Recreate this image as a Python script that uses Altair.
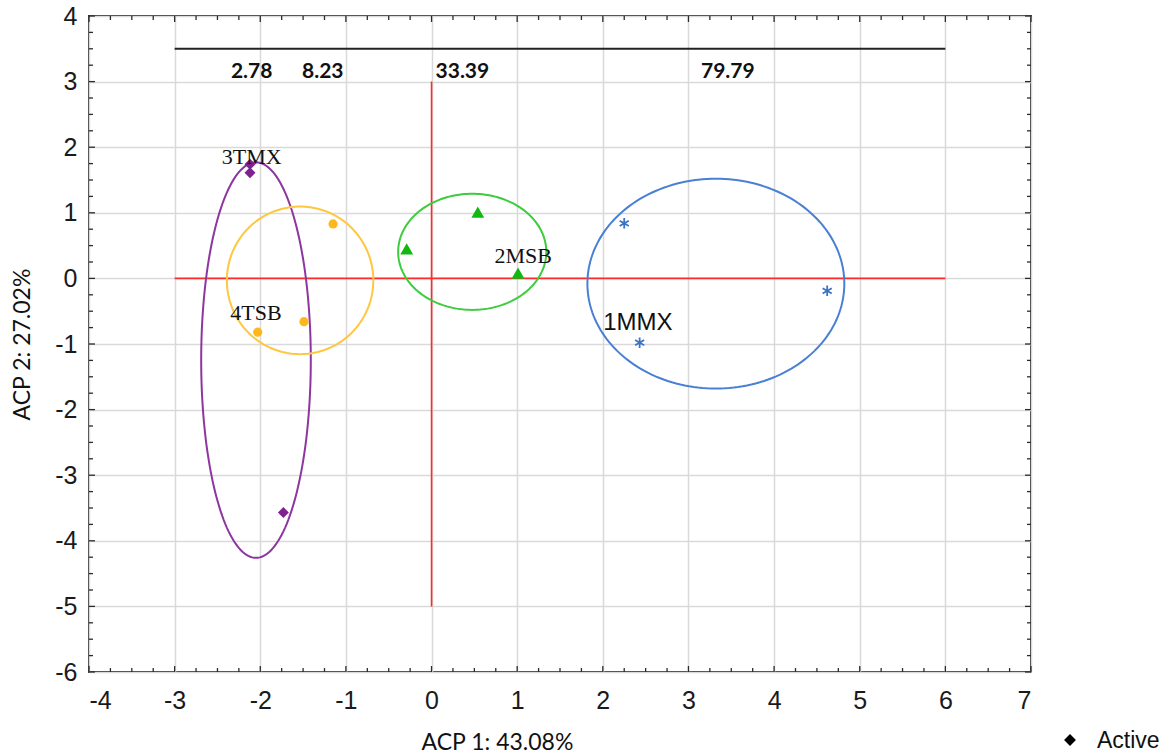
import altair as alt
import numpy as np
import pandas as pd

# Scores of the samples on the first two principal components
grupo = ["1MMX"] * 3 + ["2MSB"] * 3 + ["3TMX"] * 3 + ["4TSB"] * 3
acp1 = [2.25, 4.62, 2.43, 0.54, -0.29, 1.01, -2.12, -2.12, -1.73, -1.15, -1.49, -2.03]
acp2 = [0.84, -0.19, -0.98, 1.01, 0.45, 0.08, 1.74, 1.61, -3.57, 0.83, -0.66, -0.82]

# Group ellipses: centre and semi-axes
ell_group = ["1MMX", "2MSB", "3TMX", "4TSB"]
ell_cx = [3.32, 0.475, -2.05, -1.535]
ell_cy = [-0.08, 0.405, -1.245, -0.03]
ell_rx = [1.50, 0.865, 0.64, 0.855]
ell_ry = [1.60, 0.885, 3.015, 1.125]

# Group name labels
lab_text = ["1MMX", "2MSB", "3TMX", "4TSB"]
lab_x = [2.41, 1.07, -2.10, -2.05]
lab_y = [-0.68, 0.34, 1.85, -0.53]

# Dendrogram-style distance values above the plot
dist_text = ["2.78", "8.23", "33.39", "79.79"]
dist_x = [-2.10, -1.27, 0.36, 3.46]
dist_y = [3.15, 3.15, 3.15, 3.15]
bar_x, bar_x2, bar_y = -3.0, 6.0, 3.5

# Red reference cross
cross_x = [-3.0, 0.0]
cross_x2 = [6.0, 0.0]
cross_y = [0.0, 3.0]
cross_y2 = [0.0, -5.0]

x_ticks = list(range(-4, 8))
y_ticks = list(range(-6, 5))

point_color = {"1MMX": "#3b73c6", "2MSB": "#12b812", "3TMX": "#7d2290", "4TSB": "#ffb81c"}
ring_color = {"1MMX": "#4a80d4", "2MSB": "#3ccc3c", "3TMX": "#8e36a0", "4TSB": "#ffc640"}
ASTERISK = "M0,-1L0,1M-0.87,-0.5L0.87,0.5M-0.87,0.5L0.87,-0.5"
shape_of = {"1MMX": ASTERISK, "2MSB": "triangle-up", "3TMX": "diamond", "4TSB": "circle"}
size_of = {"1MMX": 110, "2MSB": 165, "3TMX": 120, "4TSB": 85}

W, H = 942, 656

xs = alt.Scale(domain=[-4, 7], nice=False, zero=False)
ys = alt.Scale(domain=[-6, 4], nice=False, zero=False)

pts = pd.DataFrame({"grupo": grupo, "acp1": acp1, "acp2": acp2})

# ellipse outlines
rows = []
t = np.linspace(0, 2 * np.pi, 181)
for g, cx, cy, rx, ry in zip(ell_group, ell_cx, ell_cy, ell_rx, ell_ry):
    for i, a in enumerate(t):
        rows.append({"grupo": g, "i": i, "x": cx + rx * np.cos(a), "y": cy + ry * np.sin(a)})
ell = pd.DataFrame(rows)

# integer labels with a plain hyphen for negatives
plain_label = "'' + datum.value"

# base layer carrying the axes and grid
grid = alt.Chart(pd.DataFrame({"x": [-4, 7], "y": [-6, 4]})).mark_point(opacity=0).encode(
    x=alt.X("x:Q", scale=xs, axis=alt.Axis(
        values=x_ticks, labelExpr=plain_label, labelPadding=16,
        title="ACP 1: 43.08%", titleX=408, titleY=77,
        titleBaseline="alphabetic", titleAlign="center")),
    y=alt.Y("y:Q", scale=ys, axis=alt.Axis(
        values=y_ticks, labelExpr=plain_label, labelPadding=12,
        title="ACP 2: 27.02%", titleX=-67, titleY=328,
        titleAngle=270, titleAlign="center", titleBaseline="middle")),
)

# inward tick marks on all four sides
major_x = [float(v) for v in x_ticks]
minor_x = [v for v in np.arange(-4, 7.001, 0.25) if abs(v - round(v)) > 1e-9]
major_y = [float(v) for v in y_ticks]
minor_y = [v for v in np.arange(-6, 4.001, 0.25) if abs(v - round(v)) > 1e-9]

tick_layers = []
for vals, ln in ((major_x, 6), (minor_x, 4)):
    d = pd.DataFrame({"v": vals})
    base = alt.Chart(d).mark_rule(color="#2b2b2b", strokeWidth=1.3)
    tick_layers.append(base.encode(x=alt.X("v:Q", scale=xs), y=alt.value(H), y2=alt.value(H - ln)))
    tick_layers.append(base.encode(x=alt.X("v:Q", scale=xs), y=alt.value(0), y2=alt.value(ln)))
for vals, ln in ((major_y, 6), (minor_y, 4)):
    d = pd.DataFrame({"v": vals})
    base = alt.Chart(d).mark_rule(color="#2b2b2b", strokeWidth=1.3)
    tick_layers.append(base.encode(y=alt.Y("v:Q", scale=ys), x=alt.value(0), x2=alt.value(ln)))
    tick_layers.append(base.encode(y=alt.Y("v:Q", scale=ys), x=alt.value(W), x2=alt.value(W - ln)))

cross = alt.Chart(pd.DataFrame({"x": cross_x, "x2": cross_x2, "y": cross_y, "y2": cross_y2})).mark_rule(
    color="#ff2a2a", strokeWidth=1.6).encode(
    x=alt.X("x:Q", scale=xs), x2="x2:Q", y=alt.Y("y:Q", scale=ys), y2="y2:Q")

bar = alt.Chart(pd.DataFrame({"x": [bar_x], "x2": [bar_x2], "y": [bar_y]})).mark_rule(
    color="#222222", strokeWidth=2).encode(
    x=alt.X("x:Q", scale=xs), x2="x2:Q", y=alt.Y("y:Q", scale=ys))

dist = alt.Chart(pd.DataFrame({"t": dist_text, "x": dist_x, "y": dist_y})).mark_text(
    font="Lato", fontWeight="bold", fontSize=21, color="#111111").encode(
    x=alt.X("x:Q", scale=xs), y=alt.Y("y:Q", scale=ys), text="t:N")

ring_layers = []
for g in ell_group:
    ring_layers.append(
        alt.Chart(ell[ell.grupo == g]).mark_line(color=ring_color[g], strokeWidth=2).encode(
            x=alt.X("x:Q", scale=xs), y=alt.Y("y:Q", scale=ys), order="i:Q"))

point_layers = []
for g in ell_group:
    d = pts[pts.grupo == g]
    if g == "1MMX":
        m = alt.Chart(d).mark_point(shape=shape_of[g], filled=False, stroke=point_color[g],
                                    strokeWidth=1.8, size=size_of[g], opacity=1)
    else:
        m = alt.Chart(d).mark_point(shape=shape_of[g], filled=True, color=point_color[g],
                                    size=size_of[g], opacity=1)
    point_layers.append(m.encode(x=alt.X("acp1:Q", scale=xs), y=alt.Y("acp2:Q", scale=ys)))

labs = pd.DataFrame({"t": lab_text, "x": lab_x, "y": lab_y})
serif_labels = alt.Chart(labs[labs.t != "1MMX"]).mark_text(
    font="Liberation Serif", fontSize=22, color="#111111").encode(
    x=alt.X("x:Q", scale=xs), y=alt.Y("y:Q", scale=ys), text="t:N")
sans_labels = alt.Chart(labs[labs.t == "1MMX"]).mark_text(
    font="Liberation Sans", fontSize=24, color="#111111").encode(
    x=alt.X("x:Q", scale=xs), y=alt.Y("y:Q", scale=ys), text="t:N")

legend_df = pd.DataFrame({"t": ["Active"]})
legend_mark = alt.Chart(legend_df).mark_point(shape="diamond", filled=True, color="#000000",
                                              size=140, opacity=1).encode(
    x=alt.value(981), y=alt.value(724))
legend_text = alt.Chart(legend_df).mark_text(font="Liberation Sans", fontSize=23, align="left",
                                             baseline="middle", color="#111111").encode(
    x=alt.value(1008), y=alt.value(725), text="t:N")

chart = alt.layer(
    grid, *tick_layers, cross, bar, dist, *ring_layers, *point_layers,
    serif_labels, sans_labels, legend_mark, legend_text,
).properties(
    width=W, height=H,
    autosize=alt.AutoSizeParams(type="none"),
    padding={"left": 89, "top": 16, "right": 1173 - 89 - W, "bottom": 755 - 16 - H},
).configure_view(
    stroke="#2b2b2b", strokeWidth=2,
).configure_axis(
    domain=False, ticks=False, grid=True, gridColor="#d9d9d9", gridWidth=1.5,
    labelFont="Liberation Sans", labelFontSize=25, labelColor="#1a1a1a",
    titleFont="Lato", titleFontSize=23, titleFontWeight="normal", titleColor="#111111",
)

chart.save("out.html", embed_options={"renderer": "svg", "actions": False})
